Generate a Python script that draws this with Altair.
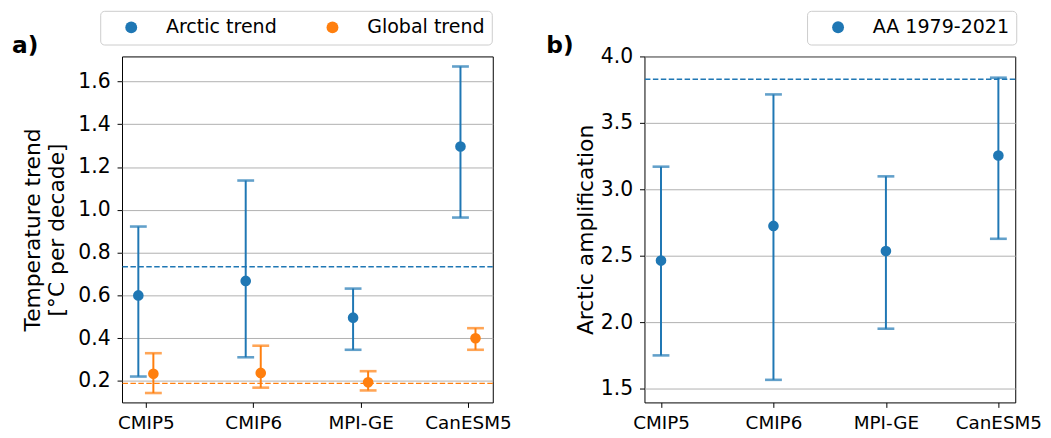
import altair as alt
import pandas as pd

# ---------------- data ----------------
models = ["CMIP5", "CMIP6", "MPI-GE", "CanESM5"]

arctic_mean = [0.600, 0.668, 0.496, 1.296]
arctic_low = [0.221, 0.311, 0.346, 0.964]
arctic_high = [0.922, 1.137, 0.632, 1.670]

global_mean = [0.234, 0.238, 0.194, 0.400]
global_low = [0.144, 0.169, 0.156, 0.346]
global_high = [0.330, 0.365, 0.246, 0.447]

obs_arctic_trend = 0.734
obs_global_trend = 0.189

aa_mean = [2.463, 2.724, 2.535, 3.254]
aa_low = [1.749, 1.565, 1.950, 2.627]
aa_high = [3.170, 3.714, 3.097, 3.840]
obs_aa = 3.828

series_a = ["Arctic trend", "Global trend"]
series_b = ["AA 1979-2021"]

a_ticks = [0.2, 0.4, 0.6, 0.8, 1.0, 1.2, 1.4, 1.6]
b_ticks = [1.5, 2.0, 2.5, 3.0, 3.5, 4.0]

# ---------------- style ----------------
BLUE, ORANGE = "#1f77b4", "#ff7f0e"
FONT = "DejaVu Sans"
offsets = {"Arctic trend": -0.07, "Global trend": 0.07}

rows_a = []
for i, m in enumerate(models):
    rows_a.append({"model": m, "pos": i + offsets["Arctic trend"], "series": "Arctic trend",
                   "mean": arctic_mean[i], "low": arctic_low[i], "high": arctic_high[i]})
    rows_a.append({"model": m, "pos": i + offsets["Global trend"], "series": "Global trend",
                   "mean": global_mean[i], "low": global_low[i], "high": global_high[i]})
df_a = pd.DataFrame(rows_a)
obs_a = pd.DataFrame({"series": series_a, "value": [obs_arctic_trend, obs_global_trend]})

df_b = pd.DataFrame({"model": models, "pos": list(range(len(models))), "series": series_b[0],
                     "mean": aa_mean, "low": aa_low, "high": aa_high})
obs_b = pd.DataFrame({"series": series_b, "value": [obs_aa]})

label_expr = "[" + ",".join("'%s'" % m for m in models) + "][datum.value]"


def make_panel(df, obs, series, colors, xdom, ydom, yticks, ytitle, title_pad,
               legend_x, legend_y, ptitle, title_dx, title_dy):
    xs = alt.Scale(domain=xdom, nice=False, zero=False)
    ys = alt.Scale(domain=ydom, nice=False, zero=False)
    cs = alt.Scale(domain=series, range=colors)
    xax = alt.Axis(values=list(range(len(models))), labelExpr=label_expr, title=None,
                   grid=False, labelFontSize=18.5, tickSize=5, labelPadding=6)
    yax = alt.Axis(values=yticks, format=".1f", title=ytitle, grid=True, labelFontSize=20.5,
                   titleFontSize=22, titleFontWeight="normal", tickSize=5, labelPadding=7,
                   titlePadding=title_pad, titleLineHeight=25)
    x = alt.X("pos:Q", scale=xs, axis=xax)

    layers = []
    for s, c in zip(series, colors):
        sub = alt.Chart(df).transform_filter(alt.datum.series == s)
        obs_rule = alt.Chart(obs).transform_filter(alt.datum.series == s).mark_rule(
            strokeDash=[5.5, 2.5], strokeWidth=1.5, color=c).encode(
            y=alt.Y("value:Q", scale=ys, axis=yax))
        bars = sub.mark_rule(strokeWidth=2, color=c).encode(
            x=x, y=alt.Y("low:Q", scale=ys, axis=yax), y2="high:Q")
        cap_lo = sub.mark_tick(orient="horizontal", size=17, thickness=2.6, color=c).encode(
            x=x, y=alt.Y("low:Q", scale=ys, axis=yax))
        cap_hi = sub.mark_tick(orient="horizontal", size=17, thickness=2.6, color=c).encode(
            x=x, y=alt.Y("high:Q", scale=ys, axis=yax))
        layers += [obs_rule, bars, cap_lo, cap_hi]

    pts = alt.Chart(df).mark_circle(size=115, opacity=1).encode(
        x=x, y=alt.Y("mean:Q", scale=ys, axis=yax),
        color=alt.Color("series:N", scale=cs, legend=alt.Legend(
            title=None, orient="none", legendX=legend_x, legendY=legend_y,
            direction="horizontal", columns=len(series), symbolType="circle",
            symbolSize=144, symbolStrokeWidth=0, symbolOffset=14.7, labelOffset=25.4,
            columnPadding=31, padding=7, strokeColor="#cccccc", cornerRadius=4,
            fillColor="white", labelFontSize=19.2, labelFont=FONT, labelColor="black")))
    layers.append(pts)
    return alt.layer(*layers).properties(
        width=374, height=349,
        title=alt.TitleParams(ptitle, anchor="start", frame="group", fontSize=23.5,
                              fontWeight="bold", font=FONT, color="black",
                              dx=title_dx, dy=title_dy))


left = make_panel(df_a, obs_a, series_a, [BLUE, ORANGE], [-0.222, 3.231], [0.1, 1.717],
                  a_ticks, ["Temperature trend", "[°C per decade]"], 9, -22, -46, "a)", -111, 51.5)
right = make_panel(df_b, obs_b, series_b, [BLUE], [-0.147, 3.15], [1.395, 4.0],
                   b_ticks, "Arctic amplification", 3, 164, -46, "b)", -99, 51.5)

chart = alt.hconcat(left, right, spacing=33).resolve_scale(color="independent").properties(
    padding={"left": 3, "top": 0, "right": 0, "bottom": 0}
).configure_view(stroke="black", strokeWidth=1).configure_axis(
    labelFont=FONT, titleFont=FONT, labelColor="black", titleColor="black",
    tickColor="black", gridColor="#b0b0b0", gridWidth=1, domain=False
)

chart.save("out.html", embed_options={"renderer": "svg", "actions": False})
